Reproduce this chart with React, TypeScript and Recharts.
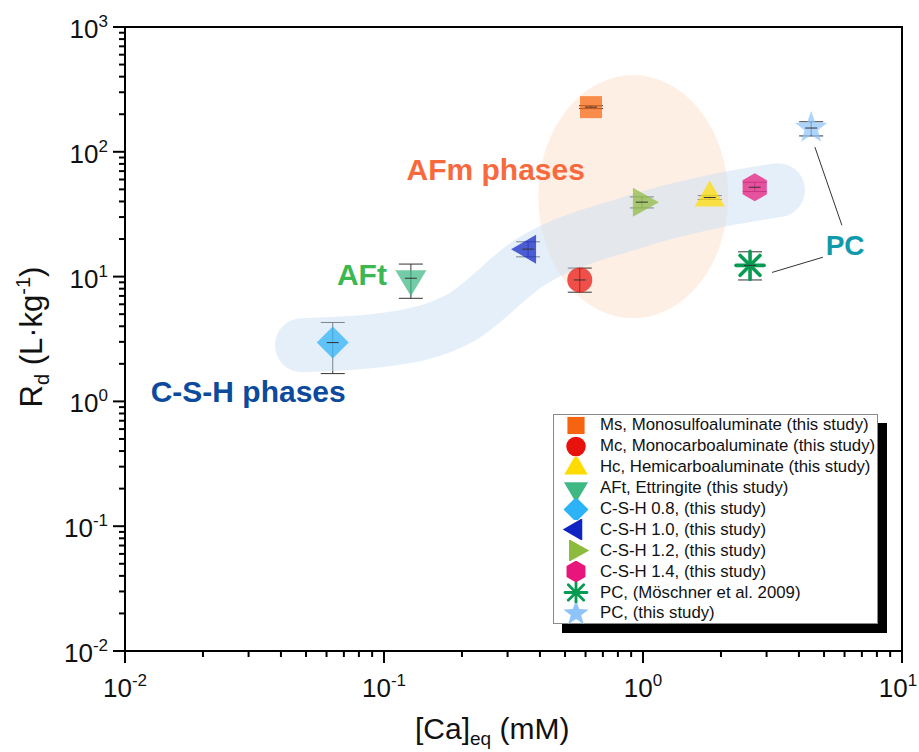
import React from "react";
import {
  ScatterChart,
  Scatter,
  XAxis,
  YAxis,
  ErrorBar,
  ReferenceArea,
  ReferenceDot,
  ReferenceLine,
} from "recharts";

const FONT = "Arial, 'Liberation Sans', sans-serif";

// phases, in legend order
const phaseNames = [
  "Ms, Monosulfoaluminate (this study)",
  "Mc, Monocarboaluminate (this study)",
  "Hc, Hemicarboaluminate (this study)",
  "AFt, Ettringite (this study)",
  "C-S-H 0.8, (this study)",
  "C-S-H 1.0, (this study)",
  "C-S-H 1.2, (this study)",
  "C-S-H 1.4, (this study)",
  "PC, (Möschner et al. 2009)",
  "PC, (this study)",
];
const markerKinds = [
  "square",
  "circle",
  "triUp",
  "triDown",
  "diamond",
  "triLeft",
  "triRight",
  "hexagon",
  "asterisk",
  "star",
];
const markerColors = [
  "#f7640f",
  "#e8120c",
  "#ffdc00",
  "#3fb883",
  "#2bb2f7",
  "#1024c4",
  "#8dbb3e",
  "#e8157a",
  "#079b52",
  "#8fc4fb",
];

// [Ca]eq (mM) and Rd (L/kg) with error bar ends
const caEq = [0.63, 0.57, 1.81, 0.127, 0.0634, 0.36, 0.99, 2.7, 2.59, 4.46];
const rd = [228, 9.4, 43, 9.7, 2.96, 16.6, 39.5, 52, 12.3, 155];
const rdLow = [222, 7.5, 41.5, 6.7, 1.67, 14.4, 35.5, 48, 9.4, 134];
const rdHigh = [234, 11.7, 44.5, 12.6, 4.29, 19, 43.5, 57, 15.8, 174];

// axis ticks
const xMajorTicks = [0.01, 0.1, 1, 10];
const yMajorTicks = [0.01, 0.1, 1, 10, 100, 1000];
const xMinorTicks = [
  0.02, 0.03, 0.04, 0.05, 0.06, 0.07, 0.08, 0.09,
  0.2, 0.3, 0.4, 0.5, 0.6, 0.7, 0.8, 0.9,
  2, 3, 4, 5, 6, 7, 8, 9,
];
const yMinorTicks = [
  0.02, 0.03, 0.04, 0.05, 0.06, 0.07, 0.08, 0.09,
  0.2, 0.3, 0.4, 0.5, 0.6, 0.7, 0.8, 0.9,
  2, 3, 4, 5, 6, 7, 8, 9,
  20, 30, 40, 50, 60, 70, 80, 90,
  200, 300, 400, 500, 600, 700, 800, 900,
];

// shaded C-S-H band (center line) and AFm ellipse bounds
const bandCa = [0.0482, 0.0965, 0.1965, 0.366, 0.915, 1.983, 3.32];
const bandRd = [2.82, 3.09, 4.64, 13.0, 27.3, 41.0, 49.3];
const afmCa = [0.394, 2.13];
const afmRd = [4.64, 412];

// PC annotation leader lines
const pcLineStar = [
  { x: 4.61, y: 109 },
  { x: 5.86, y: 25.8 },
];
const pcLineMoeschner = [
  { x: 3.15, y: 10.8 },
  { x: 4.95, y: 14.3 },
];

const annotations = [
  { text: "AFm phases", x: 0.27, y: 72, color: "#f86a3e", size: 30 },
  { text: "AFt", x: 0.0822, y: 10.5, color: "#3cb853", size: 30 },
  { text: "C-S-H phases", x: 0.0299, y: 1.2, color: "#0b4a9c", size: 30 },
  { text: "PC", x: 6.03, y: 18, color: "#0f9aab", size: 28 },
];

function Glyph({ kind, cx, cy, s, fill, opacity }: any) {
  const pts = (arr: number[][]) =>
    arr.map(([a, b]) => `${cx + a * s},${cy + b * s}`).join(" ");
  switch (kind) {
    case "square":
      return <rect x={cx - 11 * s} y={cy - 11 * s} width={22 * s} height={22 * s} fill={fill} fillOpacity={opacity} />;
    case "circle":
      return <circle cx={cx} cy={cy} r={12.5 * s} fill={fill} fillOpacity={opacity} />;
    case "triUp":
      return <polygon points={pts([[0, -17], [-15, 9], [15, 9]])} fill={fill} fillOpacity={opacity} />;
    case "triDown":
      return <polygon points={pts([[0, 18], [-15.5, -8], [15.5, -8]])} fill={fill} fillOpacity={opacity} />;
    case "triLeft":
      return <polygon points={pts([[-17, 0], [8, -14.5], [8, 14.5]])} fill={fill} fillOpacity={opacity} />;
    case "triRight":
      return <polygon points={pts([[17, 0], [-9, -14.5], [-9, 14.5]])} fill={fill} fillOpacity={opacity} />;
    case "diamond":
      return <polygon points={pts([[0, -16], [16, 0], [0, 16], [-16, 0]])} fill={fill} fillOpacity={opacity} />;
    case "hexagon": {
      const arr = [0, 1, 2, 3, 4, 5].map((k) => {
        const a = ((-90 + 60 * k) * Math.PI) / 180;
        return [14 * Math.cos(a), 14 * Math.sin(a)];
      });
      return <polygon points={pts(arr)} fill={fill} fillOpacity={opacity} />;
    }
    case "asterisk": {
      const r = 14 * s;
      const d = r * Math.SQRT1_2;
      return (
        <g stroke={fill} strokeWidth={3.6 * s} strokeLinecap="round">
          <line x1={cx - r} y1={cy} x2={cx + r} y2={cy} />
          <line x1={cx} y1={cy - r} x2={cx} y2={cy + r} />
          <line x1={cx - d} y1={cy - d} x2={cx + d} y2={cy + d} />
          <line x1={cx - d} y1={cy + d} x2={cx + d} y2={cy - d} />
        </g>
      );
    }
    case "star": {
      const arr = [];
      for (let k = 0; k < 10; k++) {
        const a = ((-90 + 36 * k) * Math.PI) / 180;
        const r = k % 2 === 0 ? 17 : 7;
        arr.push([r * Math.cos(a), r * Math.sin(a)]);
      }
      return <polygon points={pts(arr)} fill={fill} fillOpacity={opacity} />;
    }
    default:
      return null;
  }
}

const makeShape = (kind: string, color: string) => (props: any) => {
  const { cx, cy } = props;
  return (
    <g>
      <Glyph kind={kind} cx={cx} cy={cy} s={1} fill={color} opacity={kind === "asterisk" ? 1 : 0.72} />
      <line x1={cx - 6} x2={cx + 6} y1={cy} y2={cy} stroke="#333" strokeWidth={1} />
    </g>
  );
};

const expText = (v: number) => String(Math.round(Math.log10(v)));

function YTick(props: any) {
  const { x, y, payload } = props;
  return (
    <g>
      <line x1={x} x2={x - 12} y1={y} y2={y} stroke="#000" strokeWidth={2} />
      <text x={x - 17} y={y + 11} textAnchor="end" fontSize={26} fill="#111" fontFamily={FONT}>
        10
        <tspan dy={-11} fontSize={17}>{expText(payload.value)}</tspan>
      </text>
    </g>
  );
}

function XTick(props: any) {
  const { x, y, payload } = props;
  // keep the last label inside the page
  const tx = Math.min(x, 919 - 21);
  return (
    <g>
      <line x1={x} x2={x} y1={y} y2={y + 12} stroke="#000" strokeWidth={2} />
      <text x={tx} y={y + 46} textAnchor="middle" fontSize={26} fill="#111" fontFamily={FONT}>
        10
        <tspan dy={-11} fontSize={17}>{expText(payload.value)}</tspan>
      </text>
    </g>
  );
}

const YLabel = (props: any) => {
  const { viewBox } = props;
  const cx = viewBox.x + 42;
  const cy = viewBox.y + viewBox.height / 2 - 2;
  return (
    <text
      x={cx}
      y={cy}
      transform={`rotate(-90, ${cx}, ${cy})`}
      textAnchor="middle"
      fontSize={31}
      fill="#111"
      fontFamily={FONT}
    >
      R<tspan dy={7} fontSize={20}>d</tspan>
      <tspan dy={-7}> (L·kg</tspan>
      <tspan dy={-12} fontSize={20}>-1</tspan>
      <tspan dy={12}>)</tspan>
    </text>
  );
};

const XLabel = (props: any) => {
  const { viewBox } = props;
  return (
    <text x={viewBox.x + 290} y={viewBox.y + 88} fontSize={30} fill="#111" fontFamily={FONT}>
      [Ca]<tspan dy={6} fontSize={19}>eq</tspan>
      <tspan dy={-6}> (mM)</tspan>
    </text>
  );
};

function LegendBox() {
  return (
    <div
      style={{
        position: "absolute",
        left: 553,
        top: 414,
        width: 325,
        height: 210,
        boxSizing: "border-box",
        border: "1px solid #8a8a8a",
        boxShadow: "9px 9px 0 #000",
        background: "#fff",
        fontFamily: FONT,
        fontSize: 16.8,
        color: "#111",
      }}
    >
      {phaseNames.map((name, i) => (
        <div key={name} style={{ display: "flex", alignItems: "center", height: 20.9 }}>
          <svg width={44} height={21} style={{ flex: "none" }}>
            <Glyph kind={markerKinds[i]} cx={22} cy={10.5} s={0.78} fill={markerColors[i]} opacity={1} />
          </svg>
          <span style={{ paddingLeft: 2, whiteSpace: "nowrap" }}>{name}</span>
        </div>
      ))}
    </div>
  );
}

export default function App() {
  const bandData = bandCa.map((x, i) => ({ x, y: bandRd[i] }));
  const points = phaseNames.map((name, i) => ({
    name,
    kind: markerKinds[i],
    color: markerColors[i],
    data: [{ x: caEq[i], y: rd[i], err: [rd[i] - rdLow[i], rdHigh[i] - rd[i]] }],
  }));

  return (
    <div style={{ position: "absolute", left: 0, top: 0, width: 919, height: 752, background: "#fff" }}>
      <ScatterChart
        width={919}
        height={752}
        margin={{ top: 27, right: 17, bottom: 0, left: 0 }}
        style={{ fontFamily: FONT }}
      >
        <XAxis
          type="number"
          dataKey="x"
          scale="log"
          domain={[0.01, 10]}
          allowDataOverflow
          ticks={xMajorTicks}
          interval={0}
          height={101}
          tickSize={0}
          tickMargin={0}
          tickLine={false}
          tick={<XTick />}
          axisLine={{ stroke: "#000", strokeWidth: 2 }}
          label={<XLabel />}
        />
        <YAxis
          type="number"
          dataKey="y"
          scale="log"
          domain={[0.01, 1000]}
          allowDataOverflow
          ticks={yMajorTicks}
          interval={0}
          width={125}
          tickSize={0}
          tickMargin={0}
          tickLine={false}
          tick={<YTick />}
          axisLine={{ stroke: "#000", strokeWidth: 2 }}
          label={<YLabel />}
        />
        {xMinorTicks.map((v) => (
          <ReferenceLine
            key={"xm" + v}
            x={v}
            shape={(p: any) => {
              const yb = Math.max(p.y1, p.y2);
              return <line x1={p.x1} x2={p.x1} y1={yb} y2={yb + 6} stroke="#000" strokeWidth={2} />;
            }}
          />
        ))}
        {yMinorTicks.map((v) => (
          <ReferenceLine
            key={"ym" + v}
            y={v}
            shape={(p: any) => {
              const xl = Math.min(p.x1, p.x2);
              return <line x1={xl} x2={xl - 6} y1={p.y1} y2={p.y1} stroke="#000" strokeWidth={2} />;
            }}
          />
        ))}
        <ReferenceArea
          x1={afmCa[0]}
          x2={afmCa[1]}
          y1={afmRd[0]}
          y2={afmRd[1]}
          shape={(p: any) => (
            <ellipse
              cx={p.x + p.width / 2}
              cy={p.y + p.height / 2}
              rx={p.width / 2}
              ry={p.height / 2}
              fill="#fcd9c0"
              fillOpacity={0.42}
            />
          )}
        />
        <Scatter
          data={bandData}
          isAnimationActive={false}
          fill="#c9ddf3"
          line={{
            stroke: "#c9ddf3",
            strokeWidth: 54,
            strokeOpacity: 0.48,
            strokeLinecap: "round",
            strokeLinejoin: "round",
          }}
          lineJointType="monotoneX"
          shape={() => <g />}
          legendType="none"
        />
        <Scatter
          data={pcLineStar}
          isAnimationActive={false}
          fill="#333"
          line={{ stroke: "#333", strokeWidth: 1 }}
          shape={() => <g />}
          legendType="none"
        />
        <Scatter
          data={pcLineMoeschner}
          isAnimationActive={false}
          fill="#333"
          line={{ stroke: "#333", strokeWidth: 1 }}
          shape={() => <g />}
          legendType="none"
        />
        {points.map((p) => (
          <Scatter
            key={p.name}
            name={p.name}
            data={p.data}
            fill={p.color}
            isAnimationActive={false}
            shape={makeShape(p.kind, p.color)}
          >
            <ErrorBar dataKey="err" direction="y" width={12} stroke="#333" strokeWidth={1} />
          </Scatter>
        ))}
        {annotations.map((a) => (
          <ReferenceDot
            key={a.text}
            x={a.x}
            y={a.y}
            r={0}
            shape={(p: any) => (
              <text
                x={p.cx}
                y={p.cy + a.size * 0.36}
                textAnchor="middle"
                fontSize={a.size}
                fontWeight="bold"
                fill={a.color}
                fontFamily={FONT}
              >
                {a.text}
              </text>
            )}
          />
        ))}
        <ReferenceArea
          x1={0.01}
          x2={10}
          y1={0.01}
          y2={1000}
          fill="none"
          fillOpacity={0}
          stroke="#000"
          strokeWidth={2}
        />
      </ScatterChart>
      <LegendBox />
    </div>
  );
}
